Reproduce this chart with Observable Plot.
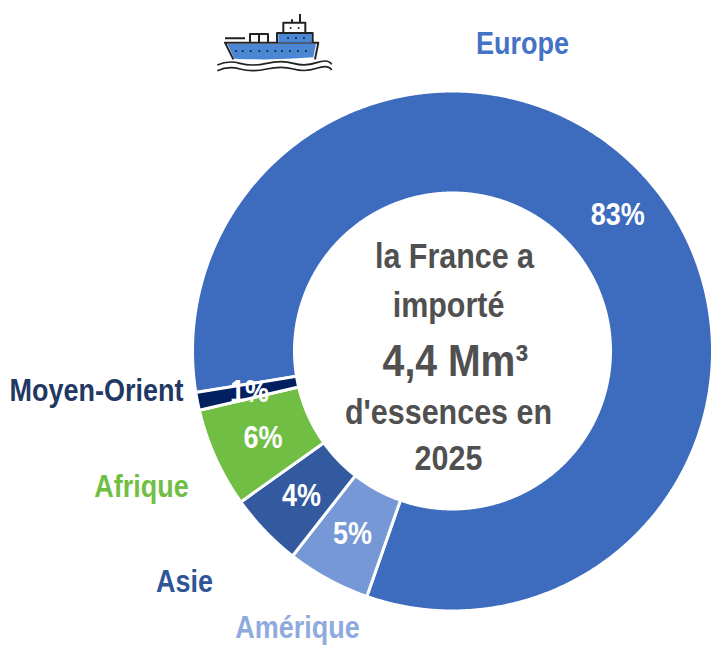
<!DOCTYPE html>
<html><head><meta charset="utf-8">
<script src="https://cdn.jsdelivr.net/npm/d3@7"></script>
<script src="https://cdn.jsdelivr.net/npm/@observablehq/plot@0.6"></script>
<style>html,body{margin:0;padding:0;background:#fff}svg{display:block}</style>
</head><body><div id="chart"></div>
<script>
const categories = ["Europe", "Amérique", "Asie", "Afrique", "Moyen-Orient"];
const shares = [82.9, 5.2, 4.6, 6.2, 1.1];
const shareLabels = ["83%", "5%", "4%", "6%", "1%"];
const sliceColors = ["#3d6cbf", "#7698d6", "#335a9f", "#70bf44", "#002060"];
const nameColors = ["#4472c4", "#8faadc", "#2f5597", "#70bf44", "#1f3864"];
const centerLines = ["la France a", "importé", "4,4 Mm³", "d'essences en", "2025"];

// layout
const W = 712, H = 646, cx = 452, cy = 350.5, R = 260, r = 158;
const startAngle = 260.8 * Math.PI / 180;
const FONT = "'Liberation Sans',Arial,sans-serif";
const pctDelta = [[5,-2],[0,0],[0,1],[1,1],[2,1]];
const namePos = [[70,-306.5],[-155,277.5],[-268,231.5],[-311,136.5],[-356,40.5]];
const centerDx = [2,-4,3,-4,-4], centerDy = [-94.5,-45.5,10.5,61.5,107.5], centerSize = [35,35,45,35,35];

const pie = d3.pie().sort(null).startAngle(startAngle).endAngle(startAngle + 2*Math.PI)(shares);
const slices = pie.map((p,i)=>({name:categories[i],a0:p.startAngle,a1:p.endAngle,mid:(p.startAngle+p.endAngle)/2}));
const polygon = [];
for (const s of slices) {
  const n = Math.ceil((s.a1 - s.a0) / 0.005);
  const ts = d3.range(n+1).map(k => s.a0 + (s.a1-s.a0)*k/n);
  for (const t of ts) polygon.push({name:s.name,x:R*Math.sin(t),y:-R*Math.cos(t)});
  for (const t of ts.reverse()) polygon.push({name:s.name,x:r*Math.sin(t),y:-r*Math.cos(t)});
}
const midR = (R+r)/2;
const pctRows = slices.map((s,i)=>({label:shareLabels[i],x:midR*Math.sin(s.mid)+pctDelta[i][0],y:-midR*Math.cos(s.mid)+pctDelta[i][1]}));
const nameRows = slices.map((s,i)=>({label:s.name,x:namePos[i][0],y:namePos[i][1],color:nameColors[i]}));
const centerRows = centerLines.map((t,i)=>({label:t,x:centerDx[i],y:centerDy[i],size:centerSize[i]}));

function ship() {
  const g = d3.create("svg:g").attr("transform","translate(200,0) scale(0.3333)")
    .attr("fill","none").attr("stroke","#222").attr("stroke-width",6).attr("stroke-linejoin","round");
  g.append("path").attr("d","M82 132H348L340 172Q220 182 103 176Z").attr("fill","#4a86d4").attr("stroke","none");
  g.append("path").attr("d","M100 178L75 128H355L345 178");
  g.append("rect").attr("x",235).attr("y",100).attr("width",100).attr("height",28).attr("fill","#4a86d4").attr("stroke","none");
  g.append("path").attr("d","M231 126V99H338V126");
  g.append("path").attr("d","M250 99V68H316V99M300 68V42M276 68V58");
  g.append("path").attr("d","M150 128V102H204V128M177 102V128M75 115H135");
  g.append("path").attr("d","M52 195Q85 180 120 190T200 190T280 190T350 188T395 193").attr("stroke-width",5);
  g.append("path").attr("d","M52 212Q85 197 120 207T200 207T280 207T350 205T395 210").attr("stroke-width",5);
  const dots = g.append("g").attr("fill","#123").attr("stroke","none");
  for (const x of [108,128,152,178,202,226,246,270,294,318]) dots.append("circle").attr("cx",x).attr("cy",153).attr("r",3);
  for (const x of [264,288,312]) dots.append("circle").attr("cx",x).attr("cy",114).attr("r",3);
  for (const x of [272,296]) dots.append("circle").attr("cx",x).attr("cy",84).attr("r",3);
  return g.node();
}

const chart = Plot.plot({
  width: W, height: H, margin: 0, style: {fontFamily: FONT, background: "#fff"},
  x: {domain: [-cx, W-cx], range: [0, W], axis: null},
  y: {domain: [-cy, H-cy], range: [0, H], axis: null},
  color: {domain: categories, range: sliceColors},
  marks: [
    Plot.line(polygon, {x:"x", y:"y", z:"name", fill:"name", stroke:"#fff", strokeWidth:3, curve:"linear-closed"}),
    Plot.text(pctRows, {x:"x", y:"y", text:"label", fill:"#fff", fontSize:31, fontWeight:"bold"}),
    Plot.text(nameRows, {x:"x", y:"y", text:"label", fill:"color", fontSize:31, fontWeight:"bold"}),
    Plot.text(centerRows, {x:"x", y:"y", text:"label", fill:"#505050", fontSize:"size", fontWeight:"bold"}),
    ship
  ]
});
document.getElementById("chart").append(chart);
// Arial-Narrow-like look: condense the glyphs of every label
chart.querySelectorAll("text").forEach(t => {
  const narrow = 0.87;
  t.setAttribute("textLength", t.getComputedTextLength() * narrow);
  t.setAttribute("lengthAdjust", "spacingAndGlyphs");
});
</script></body></html>
